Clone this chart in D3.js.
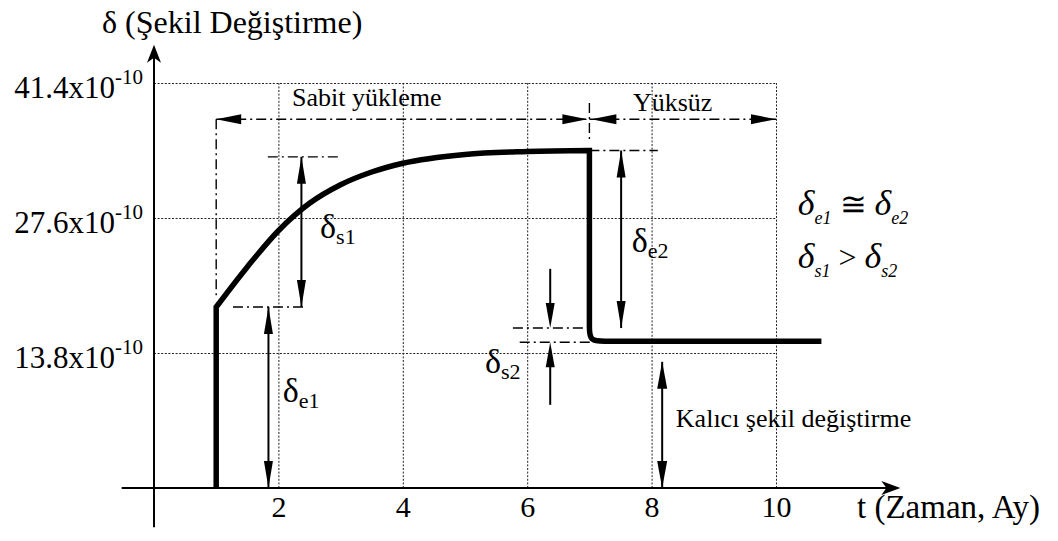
<!DOCTYPE html>
<html>
<head>
<meta charset="utf-8">
<script src="https://cdn.jsdelivr.net/npm/d3@7"></script>
<style>
  body { margin: 0; background: #fff; }
  svg { display: block; font-family: "Liberation Serif", "Times New Roman", serif; }
</style>
</head>
<body>
<svg id="chart" width="1058" height="541"></svg>
<script>
// Time axis (months) and deformation axis (x10^-10)
const timeTicks = [2, 4, 6, 8, 10];
const deformTicks = [13.8, 27.6, 41.4];
const deformTickLabels = ["13.8x10", "27.6x10", "41.4x10"];
const tickExponent = "-10";

// Creep under constant load (load applied at t = 1)
const loadStart = 1;
const loadTime = [1, 1.5, 2, 2.5, 3, 3.5, 4, 5, 6, 7];
const loadDef  = [18.5, 22.6, 26.3, 29.1, 31.0, 32.3, 33.2, 34.1, 34.4, 34.5];

// Recovery after the load is removed at t = 7
const unloadTime = [7, 7, 7, 7, 7.25, 7.5, 10.73];
const unloadDef  = [34.5, 18, 16.5, 15.0, 15.0, 15.0, 15.0];

const svg = d3.select("#chart");
const x = d3.scaleLinear().domain([0, 10]).range([154, 776]);
const y = d3.scaleLinear().domain([0, 41.4]).range([488, 83]);

const ink = "#000";
const serif = "Liberation Serif, Times New Roman, serif";
svg.attr("font-family", serif);

// ---- dotted grid ----
const grid = svg.append("g")
  .attr("stroke", "#222").attr("stroke-width", 1).attr("stroke-dasharray", "2,1.6");
grid.selectAll(".gv").data(timeTicks).join("line")
  .attr("x1", d => x(d) + 0.5).attr("x2", d => x(d) + 0.5)
  .attr("y1", y(0)).attr("y2", y(41.4));
grid.selectAll(".gh").data(deformTicks).join("line")
  .attr("x1", x(0)).attr("x2", x(10))
  .attr("y1", d => y(d) + 0.5).attr("y2", d => y(d) + 0.5);

// ---- axes ----
function arrowHead(g, tx, ty, dir, len, hw, notch) {
  const a = { right: 0, left: Math.PI, down: Math.PI / 2, up: -Math.PI / 2 }[dir];
  const c = Math.cos(a), s = Math.sin(a);
  const pt = (u, v) => [tx + u * c - v * s, ty + u * s + v * c];
  const p = [pt(0, 0), pt(-len, -hw), pt(-len + (notch || 0), 0), pt(-len, hw)];
  g.append("path")
    .attr("d", "M" + p.map(q => q.join(",")).join("L") + "Z")
    .attr("fill", ink).attr("stroke", "none");
}

const axes = svg.append("g");
axes.append("line")
  .attr("x1", x(-0.52)).attr("x2", x(11.9))
  .attr("y1", y(0)).attr("y2", y(0))
  .attr("stroke", ink).attr("stroke-width", 2);
arrowHead(axes, x(12.0), y(0), "right", 19, 7, 5);
axes.append("line")
  .attr("x1", x(0)).attr("x2", x(0))
  .attr("y1", y(-4.0)).attr("y2", y(44.8))
  .attr("stroke", ink).attr("stroke-width", 2);
arrowHead(axes, x(0), y(45.3), "up", 18, 7, 5);

// tick labels
const xAxis = d3.axisBottom(x).tickValues(timeTicks).tickSize(0).tickPadding(8).tickFormat(d3.format("d"));
const gx = svg.append("g").attr("transform", `translate(0,${y(0)})`).call(xAxis);
gx.select(".domain").remove();
gx.attr("font-family", serif);
gx.selectAll("text").attr("font-size", 30).attr("fill", ink);

const yAxis = d3.axisLeft(y).tickValues(deformTicks).tickSize(0).tickPadding(11);
const gy = svg.append("g").attr("transform", `translate(${x(0)},0)`).call(yAxis);
gy.select(".domain").remove();
gy.attr("font-family", serif);
gy.selectAll("text").each(function(d) {
  const t = d3.select(this).text(null)
    .attr("fill", ink).attr("dy", 14).attr("font-size", 31);
  t.append("tspan").text(deformTickLabels[deformTicks.indexOf(d)]);
  t.append("tspan").attr("dy", -14).attr("font-size", 21).text(tickExponent);
});

// axis titles
svg.append("text").attr("x", 102).attr("y", 33)
  .attr("font-size", 32).attr("fill", ink).text("δ (Şekil Değiştirme)");
svg.append("text").attr("x", 857).attr("y", 518)
  .attr("font-size", 33).attr("fill", ink).text("t (Zaman, Ay)");

// ---- deformation curve ----
const loadPts = loadTime.map((t, i) => [t, loadDef[i]]);
const unloadPts = unloadTime.map((t, i) => [t, unloadDef[i]]);
const lineLoad = d3.line().x(d => x(d[0])).y(d => y(d[1])).curve(d3.curveMonotoneX);
const lineUnload = d3.line().x(d => x(d[0])).y(d => y(d[1])).curve(d3.curveBasis);
const curveD = `M${x(loadStart)},${y(0)}`
  + lineLoad(loadPts).replace(/^M/, "L")
  + lineUnload(unloadPts).replace(/^M[^LC]*/, "");
svg.append("path").attr("d", curveD)
  .attr("fill", "none").attr("stroke", ink).attr("stroke-width", 5.5)
  .attr("stroke-linejoin", "miter").attr("stroke-miterlimit", 10);

// ---- dimension annotations ----
const ann = svg.append("g");
function dashDot(t1, v1, t2, v2) {
  ann.append("line")
    .attr("x1", x(t1)).attr("y1", y(v1)).attr("x2", x(t2)).attr("y2", y(v2))
    .attr("stroke", ink).attr("stroke-width", 1.4).attr("stroke-dasharray", "10,4,2,4");
}
function solid(t1, v1, t2, v2) {
  ann.append("line")
    .attr("x1", x(t1)).attr("y1", y(v1)).attr("x2", x(t2)).attr("y2", y(v2))
    .attr("stroke", ink).attr("stroke-width", 2);
}
// vertical double arrow between two deformation levels
function vArrow(t, vTop, vBot, len, hw) {
  solid(t, vTop, t, vBot);
  arrowHead(ann, x(t), y(vTop), "up", len, hw, 0);
  arrowHead(ann, x(t), y(vBot), "down", len, hw, 0);
}

// loading / unloading periods
const periodLevel = 37.7;
dashDot(1, periodLevel, 7, periodLevel);
dashDot(7, periodLevel, 10, periodLevel);
arrowHead(ann, x(1), y(periodLevel), "left", 25, 5, 0);
arrowHead(ann, x(7) - 2, y(periodLevel), "right", 25, 5, 0);
arrowHead(ann, x(7) + 2, y(periodLevel), "left", 25, 5, 0);
arrowHead(ann, x(10), y(periodLevel), "right", 25, 5, 0);
dashDot(1, periodLevel, 1, 19.3);
dashDot(7, 39.35, 7, 35.4);

// δs1 and δe1
dashDot(1.83, 33.85, 3.02, 33.85);
dashDot(1.27, 18.5, 2.43, 18.5);
vArrow(2.37, 33.85, 18.5, 27, 4.5);
vArrow(1.84, 18.5, 0, 27, 4.5);

// δe2
dashDot(7, 34.5, 8.1, 34.5);
vArrow(7.51, 34.5, 16.35, 27, 4.5);
dashDot(5.77, 16.35, 6.94, 16.35);
dashDot(5.88, 14.9, 7.17, 14.9);

// δs2: two arrows pointing inward
solid(6.37, 22.4, 6.37, 18.5);
arrowHead(ann, x(6.37), y(16.35), "down", 25, 4.5, 0);
solid(6.37, 12.9, 6.37, 8.5);
arrowHead(ann, x(6.37), y(14.9), "up", 25, 4.5, 0);

// permanent deformation
vArrow(8.17, 12.9, 0, 27, 5);

// ---- labels ----
function deltaLabel(t, v, sub) {
  const tx = svg.append("text").attr("x", x(t)).attr("y", y(v)).attr("fill", ink);
  tx.append("tspan").attr("font-size", 34).text("δ");
  tx.append("tspan").attr("font-size", 22).attr("dy", 6).text(sub);
}
deltaLabel(2.67, 25.55, "s1");
deltaLabel(2.07, 8.8, "e1");
deltaLabel(7.68, 24.1, "e2");
deltaLabel(5.32, 11.75, "s2");

svg.append("text").attr("x", x(2.22)).attr("y", y(39.1))
  .attr("font-size", 26).attr("fill", ink).text("Sabit yükleme");
svg.append("text").attr("x", x(7.7)).attr("y", y(38.5))
  .attr("font-size", 26).attr("fill", ink).text("Yüksüz");
svg.append("text").attr("x", x(8.39)).attr("y", y(6.2))
  .attr("font-size", 26).attr("fill", ink).text("Kalıcı şekil değiştirme");

// relations between elastic and creep parts
function relation(v, s1, op, s2) {
  const tx = svg.append("text").attr("x", x(10.35)).attr("y", y(v))
    .attr("fill", ink).attr("font-style", "italic");
  tx.append("tspan").attr("font-size", 36).text("δ");
  tx.append("tspan").attr("font-size", 18).attr("dy", 9).text(s1);
  tx.append("tspan").attr("font-size", 32).attr("font-style", "normal").attr("dy", -9).text(" " + op + " ");
  tx.append("tspan").attr("font-size", 36).text("δ");
  tx.append("tspan").attr("font-size", 18).attr("dy", 9).text(s2);
}
relation(27.9, "e1", "≅", "e2");
relation(22.5, "s1", ">", "s2");
</script>
</body>
</html>
